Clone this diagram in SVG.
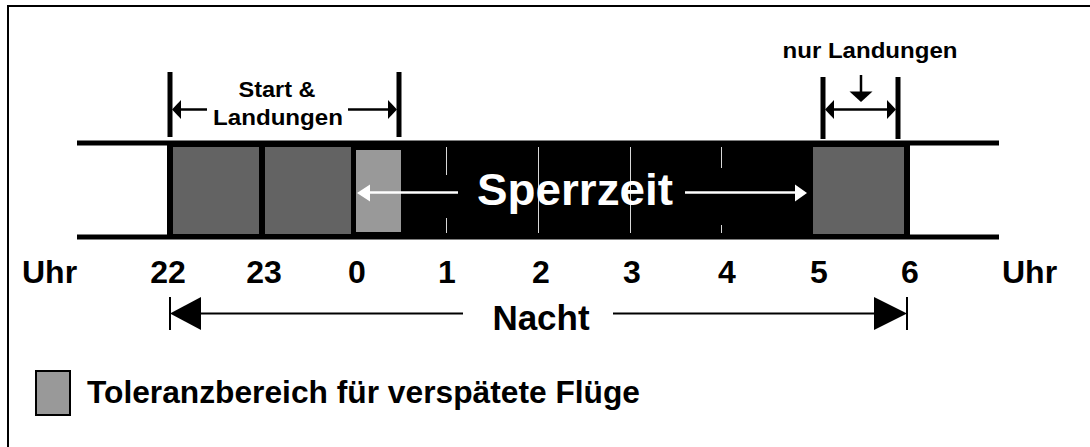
<svg xmlns="http://www.w3.org/2000/svg" width="1090" height="447" viewBox="0 0 1090 447">
<style>
text{font-family:"Liberation Sans",Arial,sans-serif;font-weight:bold;fill:#000}
.hr{font-size:32px;text-anchor:middle}
.sm{font-size:22px;text-anchor:middle}
.blk{stroke:#000;fill:none}
.wt{stroke:#fff;fill:none}
.tick{stroke:#d8d8d8;stroke-width:1;fill:none}
.dark{fill:#636363}
.light{fill:#999}
</style>
<g id="frame">
<line class="blk" x1="8" y1="6" x2="1090" y2="6" stroke-width="2"/>
<line class="blk" x1="8" y1="5" x2="8" y2="447" stroke-width="2"/>
</g>
<g id="timeline">
<rect x="167" y="141" width="743" height="98" fill="#000"/>
<rect class="dark" x="173" y="147" width="86" height="87"/>
<rect class="dark" x="265" y="147" width="86" height="87"/>
<rect class="light" x="356" y="150" width="45" height="82"/>
<rect class="dark" x="813" y="147" width="91" height="87"/>
<line class="tick" x1="446.5" y1="147" x2="446.5" y2="175"/>
<line class="tick" x1="446.5" y1="218" x2="446.5" y2="233"/>
<line class="tick" x1="538.5" y1="147" x2="538.5" y2="233"/>
<line class="tick" x1="630.5" y1="147" x2="630.5" y2="233"/>
<line class="tick" x1="721.5" y1="147" x2="721.5" y2="168"/>
<line class="tick" x1="721.5" y1="225" x2="721.5" y2="233"/>
<line class="blk" x1="77" y1="143" x2="999" y2="143" stroke-width="5"/>
<line class="blk" x1="77" y1="237" x2="999" y2="237" stroke-width="5"/>
</g>
<g id="sperrzeit">
<text x="575" y="205" text-anchor="middle" font-size="45" style="fill:#fff" textLength="196" lengthAdjust="spacingAndGlyphs">Sperrzeit</text>
</g>
<g id="start-landungen">
<text class="sm" x="277" y="97" textLength="77" lengthAdjust="spacingAndGlyphs">Start &amp;</text>
<text class="sm" x="278" y="125" textLength="130" lengthAdjust="spacingAndGlyphs">Landungen</text>
</g>
<g id="nur-landungen">
<text class="sm" x="870" y="58" textLength="175" lengthAdjust="spacingAndGlyphs">nur Landungen</text>
</g>
<g id="hours">
<text x="22" y="283" font-size="32">Uhr</text>
<text class="hr" x="168" y="283">22</text>
<text class="hr" x="264" y="283">23</text>
<text class="hr" x="357" y="283">0</text>
<text class="hr" x="447" y="283">1</text>
<text class="hr" x="541" y="283">2</text>
<text class="hr" x="632" y="283">3</text>
<text class="hr" x="727" y="283">4</text>
<text class="hr" x="819" y="283">5</text>
<text class="hr" x="910" y="283">6</text>
<text x="1002" y="283" font-size="32">Uhr</text>
</g>
<g id="nacht">
<text x="541" y="330" text-anchor="middle" font-size="35">Nacht</text>
</g>
<g id="legend">
<rect x="36" y="371" width="34" height="44" fill="#999" stroke="#000" stroke-width="2"/>
<text x="87" y="403" font-size="32" textLength="553" lengthAdjust="spacingAndGlyphs">Toleranzbereich für verspätete Flüge</text>
</g>
<g id="connectors">
<line class="wt" x1="368" y1="192.5" x2="458" y2="192.5" stroke-width="2.5"/>
<path d="M357,193L370,184.5L370,201.5z" fill="#fff"/>
<line class="wt" x1="685" y1="192.5" x2="796" y2="192.5" stroke-width="2.5"/>
<path d="M807,193L795,184.5L795,201.5z" fill="#fff"/>
<line class="blk" x1="170" y1="72" x2="170" y2="137" stroke-width="5"/>
<line class="blk" x1="399" y1="72" x2="399" y2="137" stroke-width="5"/>
<line class="blk" x1="178" y1="109.5" x2="207" y2="109.5" stroke-width="2.5"/>
<path d="M172,109.5L181,100L181,119z" fill="#000"/>
<line class="blk" x1="348" y1="109.5" x2="391" y2="109.5" stroke-width="2.5"/>
<path d="M397,109.5L388,100L388,119z" fill="#000"/>
<line class="blk" x1="823" y1="77" x2="823" y2="139" stroke-width="5"/>
<line class="blk" x1="898" y1="77" x2="898" y2="139" stroke-width="5"/>
<line class="blk" x1="830" y1="109.5" x2="891" y2="109.5" stroke-width="2.5"/>
<path d="M825,109.5L834,100L834,119z" fill="#000"/>
<path d="M896,109.5L887,100L887,119z" fill="#000"/>
<line class="blk" x1="861" y1="75" x2="861" y2="93" stroke-width="2.5"/>
<path d="M849.5,91.5L872.5,91.5L861,102z" fill="#000"/>
<line class="blk" x1="170" y1="297" x2="170" y2="330" stroke-width="2"/>
<path d="M170,313.5L201,297L201,330z" fill="#000"/>
<line class="blk" x1="200" y1="313.5" x2="463" y2="313.5" stroke-width="2"/>
<line class="blk" x1="613" y1="313.5" x2="875" y2="313.5" stroke-width="2"/>
<path d="M907,313.5L874,297L874,330z" fill="#000"/>
<line class="blk" x1="907" y1="297" x2="907" y2="330" stroke-width="2"/>
</g>
</svg>
